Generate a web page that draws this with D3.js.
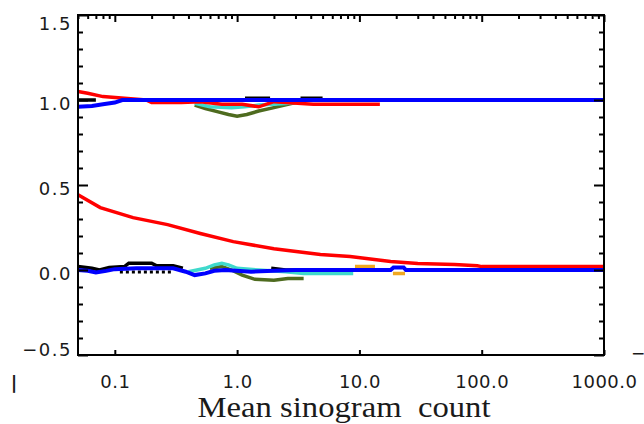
<!DOCTYPE html>
<html>
<head>
<meta charset="utf-8">
<script src="https://cdn.jsdelivr.net/npm/d3@7"></script>
<style>
  body { margin: 0; background: #fff; }
  svg text { fill: #1a1a1a; }
</style>
</head>
<body>
<div id="chart"></div>
<script>
const width = 644;
const height = 424;
const plotLeft = 78, plotRight = 604, plotTop = 15, plotBottom = 355;

// tick values and labels
const xTicks = [0.1, 1, 10, 100, 1000];
const xTickLabels = ["0.1", "1.0", "10.0", "100.0", "1000.0"];
const yTicks = [-0.5, 0, 0.5, 1.0, 1.5];
const yTickLabels = ["\u22120.5", "0.0", "0.5", "1.0", "1.5"];

// series [count, value]; NaN breaks a line
const blackTop = [[0.05, 1.0], [0.07, 1.0], [NaN, NaN], [1.16, 1.01], [1.86, 1.01], [NaN, NaN], [3.3, 1.01], [5.0, 1.01]];
const blackLow = [[0.05, 0.02], [0.065, 0.01], [0.075, 0.0], [0.09, 0.015], [0.12, 0.02], [0.13, 0.04], [0.2, 0.04], [0.22, 0.025], [0.3, 0.025], [0.36, 0.01], [NaN, NaN], [1.9, 0.01], [2.5, 0.0], [5.0, 0.0]];
const blackDots = [[0.11, -0.012], [0.3, -0.012]];
const greenTop = [[0.45, 0.97], [0.55, 0.95], [0.7, 0.93], [0.85, 0.915], [1.0, 0.905], [1.2, 0.915], [1.5, 0.935], [2.0, 0.955], [2.6, 0.975], [3.2, 0.99]];
const greenLow = [[0.6, 0.01], [0.75, 0.02], [0.9, 0.0], [1.1, -0.03], [1.4, -0.055], [2.0, -0.06], [2.6, -0.05], [3.5, -0.05]];
const cyanTop = [[0.45, 0.98], [0.6, 0.96], [0.9, 0.955], [1.15, 0.96], [1.5, 0.97], [2.5, 0.98], [3.3, 0.99]];
const cyanLow = [[0.4, -0.01], [0.55, 0.01], [0.65, 0.03], [0.75, 0.04], [0.85, 0.03], [1.0, 0.01], [1.5, 0.0], [2.5, -0.01], [3.5, -0.02], [5, -0.02], [8.9, -0.02]];
const orangeLow = [[9.2, 0.02], [13.4, 0.02], [NaN, NaN], [18.8, -0.02], [23.6, -0.02]];
const redTop = [[0.05, 1.05], [0.06, 1.04], [0.08, 1.02], [0.12, 1.01], [0.18, 1.0], [0.2, 0.985], [0.35, 0.985], [0.5, 0.99], [0.75, 0.975], [1.1, 0.975], [1.5, 0.96], [2.0, 0.99], [4.2, 0.975], [14.7, 0.975]];
const redLow = [[0.05, 0.443], [0.076, 0.367], [0.141, 0.308], [0.27, 0.267], [0.5, 0.215], [0.93, 0.167], [2.0, 0.125], [4.8, 0.091], [8.4, 0.079], [18, 0.05], [30, 0.038], [60, 0.032], [92, 0.025], [100, 0.02], [1000, 0.02]];
const blueTop = [[0.05, 0.96], [0.065, 0.965], [0.08, 0.975], [0.1, 0.985], [0.115, 1.0], [1000, 1.0]];
const blueLow = [[0.05, 0.0], [0.06, -0.005], [0.07, -0.015], [0.085, -0.005], [0.1, 0.005], [0.15, 0.01], [0.3, 0.01], [0.38, -0.01], [0.45, -0.03], [0.55, -0.02], [0.65, -0.005], [0.8, 0.0], [1.3, -0.01], [2, -0.005], [3, 0.0], [18, 0.0], [19, 0.015], [23, 0.015], [24, 0.0], [1000, 0.0]];

const svg = d3.select("#chart").append("svg")
  .attr("width", width)
  .attr("height", height);

const x = d3.scaleLog().domain([0.05, 1000]).range([plotLeft, plotRight]);
const y = d3.scaleLinear().domain([-0.5, 1.5]).range([plotBottom, plotTop]);

// linhas
const line = d3.line()
  .defined(d => !isNaN(d[0]))
  .x(d => x(d[0]))
  .y(d => y(d[1]));

const plot = svg.append("g");
const series = [
  [blackTop, "#000", 3.5, null],
  [blackLow, "#000", 3.5, null],
  [blackDots, "#000", 3, "3,3"],
  [greenTop, "#4e6b1f", 3.5, null],
  [greenLow, "#4e6b1f", 3.5, null],
  [cyanTop, "#3fd9cc", 3.5, null],
  [cyanLow, "#3fd9cc", 3.5, null],
  [orangeLow, "#f0a820", 3.5, null],
  [redTop, "#ff0000", 3.5, null],
  [redLow, "#ff0000", 3.5, null],
  [blueTop, "#0000ff", 4, null],
  [blueLow, "#0000ff", 4, null]
];
series.forEach(([data, color, w, dash]) => {
  plot.append("path")
    .datum(data)
    .attr("fill", "none")
    .attr("stroke", color)
    .attr("stroke-width", w)
    .attr("stroke-dasharray", dash)
    .attr("d", line);
});

// eixos
const yMinor = d3.range(-5, 16).map(i => i / 10).filter(v => !yTicks.some(t => Math.abs(t - v) < 1e-9));
const xMinor = x.ticks().filter(v => !xTicks.includes(v));

const axisStyle = g => {
  g.select(".domain").remove();
  g.selectAll("line").attr("stroke", "#000").attr("stroke-width", 2);
};

svg.append("g")
  .attr("transform", `translate(${plotLeft},0)`)
  .call(d3.axisLeft(y).tickValues(yTicks).tickSize(-10).tickPadding(6)
    .tickFormat((d, i) => yTickLabels[i]))
  .call(axisStyle)
  .call(g => g.selectAll("text")
    .attr("font-family", "DejaVu Sans")
    .attr("font-size", 18)
    .attr("letter-spacing", 1.5)
    .attr("dy", d => d === 1.5 ? "0.8em" : d === -0.5 ? "0.05em" : "0.5em"));

svg.append("g")
  .attr("transform", `translate(${plotLeft},0)`)
  .call(d3.axisLeft(y).tickValues(yMinor).tickSize(-5).tickFormat(""))
  .call(axisStyle);

svg.append("g")
  .attr("transform", `translate(${plotRight},0)`)
  .call(d3.axisRight(y).tickValues(yTicks).tickSize(-10).tickFormat(""))
  .call(axisStyle);

svg.append("g")
  .attr("transform", `translate(${plotRight},0)`)
  .call(d3.axisRight(y).tickValues(yMinor).tickSize(-5).tickFormat(""))
  .call(axisStyle);

svg.append("g")
  .attr("transform", `translate(0,${plotBottom})`)
  .call(d3.axisBottom(x).tickValues(xTicks).tickSize(-5).tickPadding(20)
    .tickFormat((d, i) => xTickLabels[i]))
  .call(axisStyle)
  .call(g => g.selectAll("text")
    .attr("font-family", "DejaVu Sans")
    .attr("font-size", 18)
    .attr("letter-spacing", 0.5));

svg.append("g")
  .attr("transform", `translate(0,${plotTop})`)
  .call(d3.axisTop(x).tickValues(xTicks).tickSize(-7).tickFormat(""))
  .call(axisStyle);

svg.append("g")
  .attr("transform", `translate(0,${plotTop})`)
  .call(d3.axisTop(x).tickValues(xMinor).tickSize(-4).tickFormat(""))
  .call(axisStyle);

// moldura
svg.append("rect")
  .attr("x", plotLeft)
  .attr("y", plotTop)
  .attr("width", plotRight - plotLeft)
  .attr("height", plotBottom - plotTop)
  .attr("fill", "none")
  .attr("stroke", "#000")
  .attr("stroke-width", 2);

svg.append("text")
  .attr("x", 344)
  .attr("y", 417)
  .attr("text-anchor", "middle")
  .attr("font-family", "Liberation Serif")
  .attr("font-size", 29)
  .attr("textLength", 293)
  .attr("lengthAdjust", "spacingAndGlyphs")
  .style("white-space", "pre")
  .text("Mean sinogram  count");

// restos dos painéis vizinhos
svg.append("text")
  .attr("x", 14).attr("y", 389)
  .attr("text-anchor", "middle")
  .attr("font-family", "DejaVu Sans")
  .attr("font-weight", "bold")
  .attr("font-size", 18)
  .text("|");
svg.append("text")
  .attr("x", 638).attr("y", 359)
  .attr("text-anchor", "middle")
  .attr("font-family", "DejaVu Sans")
  .attr("font-size", 17)
  .text("\u2212");
</script>
</body>
</html>
